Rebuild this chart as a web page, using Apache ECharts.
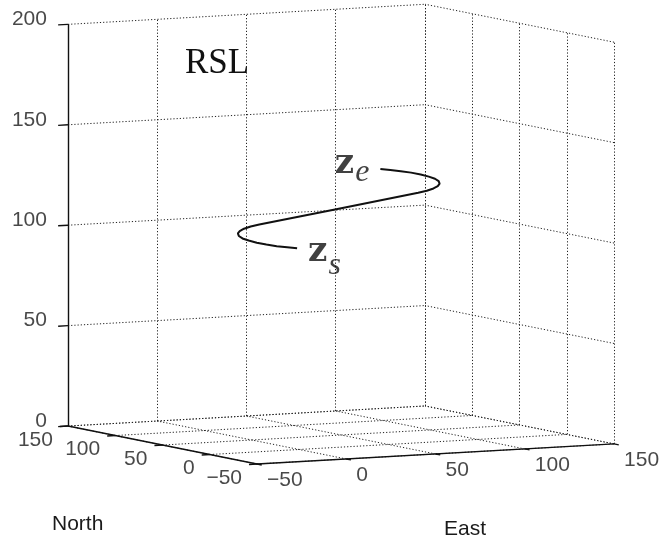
<!DOCTYPE html>
<html><head><meta charset="utf-8">
<script src="https://cdn.jsdelivr.net/npm/echarts@6/dist/echarts.min.js"></script>
<style>html,body{margin:0;padding:0;background:#fff}#c{width:662px;height:545px}</style>
</head><body><div id="c"></div>
<script>
// ---- data ----
const eastTicks  = [-50, 0, 50, 100, 150];
const northTicks = [-50, 0, 50, 100, 150];
const altTicks   = [0, 50, 100, 150, 200];
const eastRange  = [-50, 150];
const northRange = [-50, 150];
const altRange   = [0, 200];

// RSL path (East, North, altitude)
const pathEast  = [0, -5.2, -10, -14.1, -17.3, -19.3, -20, -19.3, -17.3, -14.1, -10, -5.2, 0, 44.5, 89, 94.2, 99, 103.1, 106.3, 108.3, 109, 108.3, 106.3, 103.1, 99, 94.2, 89];
const pathNorth = [2, 2.7, 4.7, 7.9, 12, 16.8, 22, 27.2, 32, 36.1, 39.3, 41.3, 42, 42, 42, 42.7, 44.7, 47.9, 52, 56.8, 62, 67.2, 72, 76.1, 79.3, 81.3, 82];
const pathAlt   = [100, 100.7, 101.3, 102, 102.7, 103.4, 104, 104.7, 105.4, 106, 106.7, 107.4, 108, 113.7, 119.4, 120.1, 120.8, 121.4, 122.1, 122.8, 123.5, 124.1, 124.8, 125.5, 126.1, 126.8, 127.5];

const titleText = 'RSL';
const xName = 'East';
const yName = 'North';

// ---- view (orthographic camera) ----
const W = 662, H = 545;
const view = { azimuth: -27.9, elevation: 6.1, box: 404, origin: [257, 464] };

function project(e, n, z) {
  const x = (e - eastRange[0]) / (eastRange[1] - eastRange[0]);
  const y = (n - northRange[0]) / (northRange[1] - northRange[0]);
  const h = (z - altRange[0]) / (altRange[1] - altRange[0]);
  const az = view.azimuth * Math.PI / 180, el = view.elevation * Math.PI / 180;
  const ca = Math.cos(az), sa = Math.sin(az), se = Math.sin(el), ce = Math.cos(el);
  return [view.box * (ca * x + sa * y), view.box * (-se * sa * x + se * ca * y + ce * h)];
}
const seg = (a, b) => ({ coords: [project(a[0], a[1], a[2]), project(b[0], b[1], b[2])] });

// grid lines on the back walls and floor
const E0 = eastRange[0], E1 = eastRange[1], N0 = northRange[0], N1 = northRange[1], Z0 = altRange[0], Z1 = altRange[1];
const gridSegs = [];
eastTicks.forEach(e => { gridSegs.push(seg([e, N1, Z0], [e, N1, Z1])); gridSegs.push(seg([e, N0, Z0], [e, N1, Z0])); });
northTicks.forEach(n => { gridSegs.push(seg([E1, n, Z0], [E1, n, Z1])); gridSegs.push(seg([E0, n, Z0], [E1, n, Z0])); });
altTicks.forEach(z => { gridSegs.push(seg([E0, N1, z], [E1, N1, z])); gridSegs.push(seg([E1, N0, z], [E1, N1, z])); });

// axis lines and ticks
const axisSegs = [
  seg([E0, N1, Z0], [E0, N1, Z1]),
  seg([E0, N1, Z0], [E0, N0, Z0]),
  seg([E0, N0, Z0], [E1, N0, Z0])
];
altTicks.forEach(z => axisSegs.push(seg([E0, N1, z], [E0 - 5.5, N1, z])));
northTicks.forEach(n => axisSegs.push(seg([E0, n, Z0], [E0 - 4.5, n, Z0])));
eastTicks.forEach(e => axisSegs.push(seg([e, N0, Z0], [e, N0 - 5, Z0])));

const fmt = v => String(v).replace('-', '\u2212');
const tickFont = { fontFamily: 'Liberation Sans, Arial, sans-serif', fontSize: 21, color: '#1a1a1a' };

const pathData = pathEast.map((e, i) => project(e, pathNorth[i], pathAlt[i]));
const last = pathData.length - 1;

const chart = echarts.init(document.getElementById('c'), null, { renderer: 'canvas' });
chart.setOption({
  animation: false,
  backgroundColor: '#fff',
  grid: { left: 0, right: 0, top: 0, bottom: 0 },
  xAxis: { type: 'value', min: -view.origin[0], max: W - view.origin[0], show: false },
  yAxis: { type: 'value', min: -(H - view.origin[1]), max: view.origin[1], show: false },
  graphic: [
    { type: 'text', left: 185, top: 46, style: { text: titleText, font: '35px "Liberation Serif", serif', fill: '#111' } },
    { type: 'text', left: 52, top: 514, style: { text: yName, font: '21px "Liberation Sans", Arial, sans-serif', fill: '#1a1a1a' } },
    { type: 'text', left: 444, top: 519, style: { text: xName, font: '21px "Liberation Sans", Arial, sans-serif', fill: '#1a1a1a' } }
  ],
  series: [
    { type: 'lines', coordinateSystem: 'cartesian2d', silent: true, z: 1,
      lineStyle: { color: '#222', width: 1, type: [1.2, 2], opacity: 1 }, data: gridSegs },
    { type: 'lines', coordinateSystem: 'cartesian2d', silent: true, z: 2,
      lineStyle: { color: '#111', width: 1.4, opacity: 1 }, data: axisSegs },
    { type: 'line', silent: true, z: 3, symbol: 'none', data: pathData,
      lineStyle: { color: '#111', width: 2 } },
    { type: 'scatter', silent: true, z: 4, symbolSize: 0,
      data: altTicks.map(z => ({ value: project(E0, N1, z), name: fmt(z) })),
      label: Object.assign({ show: true, formatter: '{b}', position: 'left', distance: 21, offset: [0, -5] }, tickFont) },
    { type: 'scatter', silent: true, z: 4, symbolSize: 0,
      data: northTicks.map(n => ({ value: project(E0, n, Z0), name: fmt(n) })),
      label: Object.assign({ show: true, formatter: '{b}', position: 'left', distance: 15, offset: [0, 14] }, tickFont) },
    { type: 'scatter', silent: true, z: 4, symbolSize: 0,
      data: eastTicks.map(e => ({ value: project(e, N0, Z0), name: fmt(e) })),
      label: Object.assign({ show: true, formatter: '{b}', position: 'right', distance: 10, offset: [0, 16] }, tickFont) },
    { type: 'scatter', silent: true, z: 5, symbolSize: 0,
      data: [
        { value: pathData[0], label: { position: 'right', distance: 11, offset: [0, 4], formatter: '{b|z}{s|s}' ,
          rich: { b: { fontFamily: 'DejaVu Serif', fontWeight: 'bold', fontSize: 34, color: '#111' },
                  s: { fontFamily: 'Liberation Serif', fontStyle: 'italic', fontSize: 32, color: '#111', padding: [26, 0, 0, 1] } } } },
        { value: pathData[last], label: { position: 'left', distance: 11, offset: [0, -5], formatter: '{b|z}{s|e}',
          rich: { b: { fontFamily: 'DejaVu Serif', fontWeight: 'bold', fontSize: 34, color: '#111' },
                  s: { fontFamily: 'Liberation Serif', fontStyle: 'italic', fontSize: 32, color: '#111', padding: [18, 0, 0, 1] } } } }
      ],
      label: { show: true } }
  ]
});
</script></body></html>
